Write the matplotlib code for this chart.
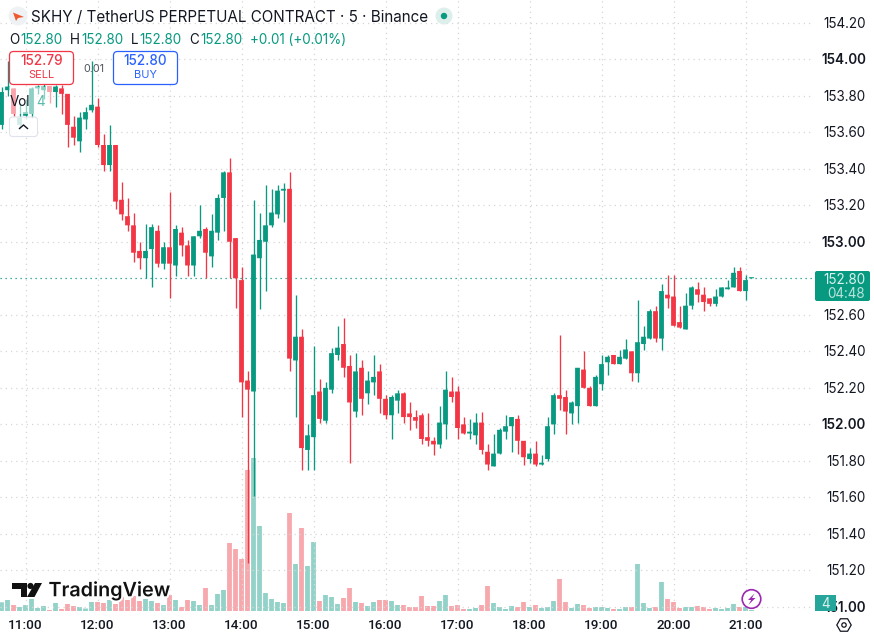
import matplotlib
matplotlib.use("Agg")
import matplotlib.pyplot as plt
import matplotlib.patheffects as pe
from matplotlib.patches import FancyBboxPatch, Circle, Polygon, RegularPolygon, Rectangle
import numpy as np

plt.rcParams["font.family"] = ["Inter", "DejaVu Sans"]

GREEN = "#089981"
RED = "#F23645"
BLUE = "#2962FF"
INK = "#131722"

# 5-minute candles; index 0 is the 11:00 bar
first_index = -4
opens = [
    153.64, 153.83, 153.84, 153.64, 153.69, 153.70, 153.84, 153.83, 153.85, 153.82,
    153.84, 153.81, 153.63, 153.55, 153.67, 153.72, 153.74, 153.53, 153.42, 153.53,
    153.23, 153.14, 153.09, 152.95, 152.91, 152.96, 153.06, 152.88, 152.97, 152.87,
    153.05, 152.98, 152.87, 153.03, 153.07, 152.92, 153.05, 153.24, 153.38, 153.02,
    152.79, 152.24, 152.18, 152.91, 153.00, 153.09, 153.15, 153.28, 153.29, 152.35,
    152.48, 151.86, 151.93, 152.18, 152.02, 152.19, 152.38, 152.44, 152.32, 152.07,
    152.31, 152.17, 152.23, 152.29, 152.14, 152.05, 152.13, 152.17, 152.06, 152.04,
    152.05, 151.93, 151.91, 151.89, 152.00, 152.18, 152.18, 152.00, 151.95, 151.94,
    152.01, 151.85, 151.77, 151.84, 151.96, 151.99, 152.03, 151.91, 151.81, 151.84,
    151.78, 151.81, 152.00, 152.16, 152.15, 152.06, 152.10, 152.30, 152.20, 152.10,
    152.22, 152.34, 152.38, 152.33, 152.36, 152.40, 152.28, 152.44, 152.47, 152.62,
    152.47, 152.71, 152.70, 152.56, 152.52, 152.65, 152.74, 152.71, 152.69, 152.66,
    152.70, 152.74, 152.75, 152.84, 152.73, 152.80,
]
highs = [
    153.85, 153.99, 153.84, 153.76, 153.78, 153.85, 153.86, 153.87, 153.85, 153.86,
    153.86, 153.81, 153.69, 153.71, 153.74, 153.99, 153.79, 153.59, 153.64, 153.53,
    153.33, 153.24, 153.16, 153.00, 153.10, 153.10, 153.09, 153.00, 153.27, 153.09,
    153.08, 153.01, 153.03, 153.20, 153.08, 153.15, 153.26, 153.39, 153.46, 153.02,
    152.86, 152.29, 153.23, 153.16, 153.31, 153.29, 153.31, 153.32, 153.38, 152.71,
    152.52, 152.00, 152.43, 152.25, 152.23, 152.42, 152.54, 152.58, 152.38, 152.39,
    152.35, 152.29, 152.38, 152.33, 152.16, 152.16, 152.19, 152.18, 152.12, 152.08,
    152.06, 152.06, 151.93, 152.10, 152.29, 152.26, 152.21, 152.04, 152.03, 152.06,
    152.07, 151.89, 151.95, 151.98, 152.05, 152.04, 152.05, 151.91, 151.87, 151.91,
    151.83, 152.04, 152.17, 152.49, 152.19, 152.13, 152.31, 152.40, 152.21, 152.27,
    152.38, 152.38, 152.38, 152.41, 152.47, 152.40, 152.68, 152.54, 152.63, 152.65,
    152.77, 152.82, 152.82, 152.65, 152.72, 152.76, 152.78, 152.75, 152.69, 152.74,
    152.75, 152.79, 152.86, 152.86, 152.82, 152.80,
]
lows = [
    153.62, 153.80, 153.69, 153.62, 153.67, 153.68, 153.81, 153.78, 153.76, 153.74,
    153.70, 153.52, 153.53, 153.49, 153.62, 153.71, 153.52, 153.39, 153.39, 153.18,
    153.12, 153.06, 152.89, 152.85, 152.80, 152.75, 152.86, 152.85, 152.69, 152.81,
    152.92, 152.81, 152.81, 153.02, 152.80, 152.86, 153.01, 153.06, 152.80, 152.64,
    152.04, 151.24, 151.61, 152.63, 152.73, 153.08, 153.13, 153.11, 152.29, 152.04,
    151.75, 151.75, 151.75, 152.01, 152.01, 152.17, 152.35, 152.26, 151.79, 152.04,
    152.05, 152.11, 152.16, 152.06, 152.03, 151.92, 152.06, 152.01, 151.97, 151.98,
    151.89, 151.88, 151.83, 151.87, 151.92, 152.12, 151.92, 151.95, 151.92, 151.89,
    151.84, 151.75, 151.77, 151.84, 151.92, 151.85, 151.84, 151.78, 151.79, 151.77,
    151.78, 151.80, 151.95, 152.08, 151.95, 152.00, 152.01, 152.20, 152.10, 152.10,
    152.19, 152.27, 152.33, 152.33, 152.36, 152.24, 152.23, 152.41, 152.47, 152.45,
    152.41, 152.64, 152.54, 152.53, 152.52, 152.63, 152.67, 152.62, 152.65, 152.65,
    152.70, 152.74, 152.75, 152.73, 152.68, 152.80,
]
closes = [
    153.82, 153.85, 153.70, 153.68, 153.71, 153.84, 153.85, 153.85, 153.82, 153.85,
    153.81, 153.64, 153.57, 153.68, 153.71, 153.75, 153.53, 153.42, 153.53, 153.22,
    153.15, 153.09, 152.94, 152.91, 152.95, 153.08, 152.88, 152.97, 152.88, 153.07,
    152.98, 152.87, 153.03, 153.06, 152.94, 153.06, 153.24, 153.38, 153.00, 152.80,
    152.23, 152.19, 152.93, 153.01, 153.09, 153.16, 153.28, 153.29, 152.36, 152.48,
    151.87, 151.94, 152.16, 152.03, 152.20, 152.39, 152.42, 152.31, 152.12, 152.29,
    152.14, 152.24, 152.26, 152.14, 152.05, 152.15, 152.17, 152.04, 152.04, 152.02,
    151.92, 151.91, 151.89, 152.01, 152.19, 152.15, 151.98, 151.95, 151.96, 152.01,
    151.86, 151.78, 151.84, 151.97, 151.99, 152.04, 151.91, 151.82, 151.84, 151.78,
    151.79, 151.99, 152.16, 152.14, 152.07, 152.12, 152.31, 152.20, 152.10, 152.26,
    152.33, 152.37, 152.33, 152.37, 152.41, 152.28, 152.45, 152.48, 152.62, 152.47,
    152.73, 152.69, 152.54, 152.53, 152.65, 152.75, 152.71, 152.67, 152.66, 152.70,
    152.75, 152.75, 152.83, 152.73, 152.79, 152.80,
]
volumes = [
    35, 44, 24, 16, 24, 48, 12, 20, 4, 32,
    8, 28, 20, 16, 10, 36, 36, 32, 44, 28,
    56, 44, 60, 40, 48, 40, 32, 24, 64, 44,
    16, 44, 40, 24, 92, 24, 68, 84, 272, 248,
    208, 564, 612, 340, 72, 48, 36, 32, 392, 188,
    332, 180, 276, 40, 64, 56, 28, 52, 92, 36,
    32, 20, 36, 44, 44, 40, 24, 24, 16, 16,
    60, 20, 20, 40, 64, 20, 24, 8, 8, 12,
    24, 100, 32, 16, 8, 20, 16, 36, 16, 24,
    12, 16, 40, 128, 36, 12, 28, 24, 12, 16,
    16, 12, 8, 8, 16, 16, 188, 32, 12, 16,
    116, 48, 36, 12, 16, 16, 20, 16, 8, 12,
    8, 12, 28, 16, 16, 4,
]
hour_labels = ["11:00", "12:00", "13:00", "14:00", "15:00", "16:00",
               "17:00", "18:00", "19:00", "20:00", "21:00"]
price_ticks = [154.20, 154.00, 153.80, 153.60, 153.40, 153.20, 153.00, 152.80,
               152.60, 152.40, 152.20, 152.00, 151.80, 151.60, 151.40, 151.20, 151.00]
last_price = 152.80
volume_per_px = 4

W, H = 874, 639
fig = plt.figure(figsize=(W / 100, H / 100), dpi=100, facecolor="white")

# Main pane: 813 px wide, 611 px tall
ax = fig.add_axes([0, 1 - 611 / H, 813 / W, 611 / H])
ax.set_xlim(-4.25, 131.25)
ax.set_ylim(150.978, 154.324)
ax.axis("off")

# Volume shares the pane, on its own scale
vax = ax.twinx()
vax.set_ylim(0, 611 * volume_per_px)
vax.axis("off")

x = np.arange(len(opens)) + first_index
o, h, l, c = map(np.array, (opens, highs, lows, closes))
up = c >= o
colors = np.where(up, GREEN, RED)
vol_colors = np.where(up, "#93d2c8", "#f7a8ad")

GRID = dict(color="#d6d6d6", lw=0.9, ls=(0, (1, 3.2)))
for p in price_ticks:
    if p != last_price:
        ax.axhline(p, zorder=0, **GRID)
for tick in range(0, 121, 12):
    ax.axvline(tick, zorder=0, **GRID)

vol_bars = vax.bar(x, volumes, width=0.8, color=vol_colors, zorder=1)
vax.set_zorder(1)
ax.set_zorder(2)
ax.patch.set_visible(False)

ax.vlines(x, l, h, colors=colors, lw=0.95, zorder=3)
bodies = ax.bar(x, np.maximum(np.abs(c - o), 0.006), bottom=np.minimum(o, c), width=0.8,
                color=colors, linewidth=0, zorder=4)
# Unsnapped rectangles keep every candle the same width
for patch in list(bodies) + list(vol_bars):
    patch.set_snap(False)
ax.axhline(last_price, color=GREEN, lw=0.9, ls=(0, (1, 3)), zorder=2.5)

# Overlay in pixel coordinates for the widgets and labels
ov = fig.add_axes([0, 0, 1, 1], zorder=5)
ov.set_xlim(0, W)
ov.set_ylim(H, 0)
ov.axis("off")
ov.patch.set_visible(False)


def box(x0, y0, x1, y1, r=3, **kw):
    ov.add_patch(FancyBboxPatch((x0 + r, y0 + r), x1 - x0 - 2 * r, y1 - y0 - 2 * r,
                                boxstyle=f"round,pad={r}", **kw))


# Header
ov.add_patch(Circle((18, 16), 9.5, color="#eef2f5", lw=0))
ov.add_patch(Polygon([[13, 12.5], [24, 17], [18, 18], [16, 21]], color="#f0582f", lw=0))
ov.text(31, 17, "SKHY / TetherUS PERPETUAL CONTRACT · 5 · Binance", fontsize=10.95,
        color=INK, va="center", ha="left")
ov.add_patch(Circle((444, 16), 8.5, color="#dcefeb", lw=0))
ov.add_patch(Circle((444, 16), 3.2, color=GREEN, lw=0))

ohlc = [(9, "O", 20.5, "152.80"), (70, "H", 81.5, "152.80"), (130.5, "L", 139.5, "152.80"),
        (189.5, "C", 200.5, "152.80")]
for lx, letter, vx, value in ohlc:
    ov.text(lx, 39.5, letter, fontsize=9.7, color=INK, va="center")
    ov.text(vx, 39.5, value, fontsize=9.7, color=GREEN, va="center")
ov.text(250, 39.5, "+0.01 (+0.01%)", fontsize=9.7, color=GREEN, va="center")

# Sell and buy buttons
box(9.5, 51.5, 73.5, 84.5, r=4, facecolor="white", edgecolor=RED, lw=0.9)
ov.text(41.5, 61.3, "152.79", fontsize=9.7, color=RED, ha="center", va="center", weight="medium")
ov.text(41.5, 75.5, "SELL", fontsize=7.9, color=RED, ha="center", va="center")
box(113.5, 51.5, 177.5, 84.5, r=4, facecolor="white", edgecolor=BLUE, lw=0.9)
ov.text(145.5, 61.3, "152.80", fontsize=9.7, color=BLUE, ha="center", va="center", weight="medium")
ov.text(145.5, 75.5, "BUY", fontsize=7.9, color=BLUE, ha="center", va="center")
ov.text(93.5, 69, "0.01", fontsize=7.8, color="#50535e", ha="center", va="center")

# Volume legend with its translucent backing
ov.add_patch(Rectangle((9, 87), 43, 27, facecolor="white", alpha=0.55, lw=0))
ov.text(9.5, 102, "Vol", fontsize=9.7, color=INK, va="center")
ov.text(36.5, 102, "4", fontsize=9.7, color="#5cbcaa", va="center")
box(9.5, 117, 37.5, 136.5, r=3, facecolor=(1, 1, 1, 0.82), edgecolor="#e0e3eb", lw=0.8)
ov.plot([19.5, 23.5, 27.5], [128.5, 125, 128.5], color=INK, lw=1.0)

# Price scale
for p in price_ticks:
    if p == last_price:
        continue
    bold = abs(p - round(p)) < 1e-6
    ypix = 278.3 + (last_price - p) * 182.6
    ov.text(866, ypix + 1, f"{p:.2f}", fontsize=9.7, color=INK, ha="right", va="center",
            weight="semibold" if bold else "normal", zorder=2)

# Countdown tag for the last price
box(815, 271, 870, 301, r=2, facecolor=GREEN, edgecolor="none", zorder=3)
ov.text(866, 280, "152.80", fontsize=9.7, color="#d9f2ec", ha="right", va="center", zorder=4)
ov.text(865, 293.5, "04:48", fontsize=9.7, color="#b8e3da", ha="right", va="center", zorder=4)

# Volume tag
ov.add_patch(Rectangle((815, 595), 21, 16, facecolor="#26a69a", lw=0, zorder=3))
ov.text(825.5, 604, "4", fontsize=9.7, color="#d5efeb", ha="center", va="center", zorder=4)

# Time scale
for i, label in enumerate(hour_labels):
    ov.text(25.5 + 72 * i, 625.5, label, fontsize=9.7, color=INK, ha="center", va="center",
            family=["Roboto", "DejaVu Sans"], weight="medium")

# Settings icon
ov.add_patch(RegularPolygon((844, 625), 6, radius=7.2, orientation=np.pi / 2,
                            facecolor="none", edgecolor=INK, lw=0.9))
ov.add_patch(Circle((844, 625), 2.2, facecolor="none", edgecolor=INK, lw=0.9))

# Bolt badge
ov.add_patch(Circle((751.5, 599), 9.3, facecolor="white", edgecolor="#9c27b0", lw=1.2))
ov.add_patch(Polygon([[754.5, 593.5], [748, 600], [751.2, 600], [748.5, 604.8],
                      [755.5, 598], [752, 598]], color="#9c27b0", lw=0))

# TradingView mark
halo = [pe.withStroke(linewidth=3, foreground="white")]
logo = [
    [[12, 583], [27, 583], [27, 597], [20.5, 597], [20.5, 589], [12, 589]],
    [[35, 583], [42, 583], [34.5, 597], [27, 597]],
]
for pts in logo:
    ov.add_patch(Polygon(pts, color="#111111", lw=0))
ov.add_patch(Circle((30.5, 586), 3.1, color="#111111", lw=0))
ov.text(48.5, 591, "TradingView", fontsize=14.2, color="#111111", va="center", ha="left",
        weight="semibold", path_effects=halo)

fig.savefig("out.png", dpi=100, facecolor="white")
